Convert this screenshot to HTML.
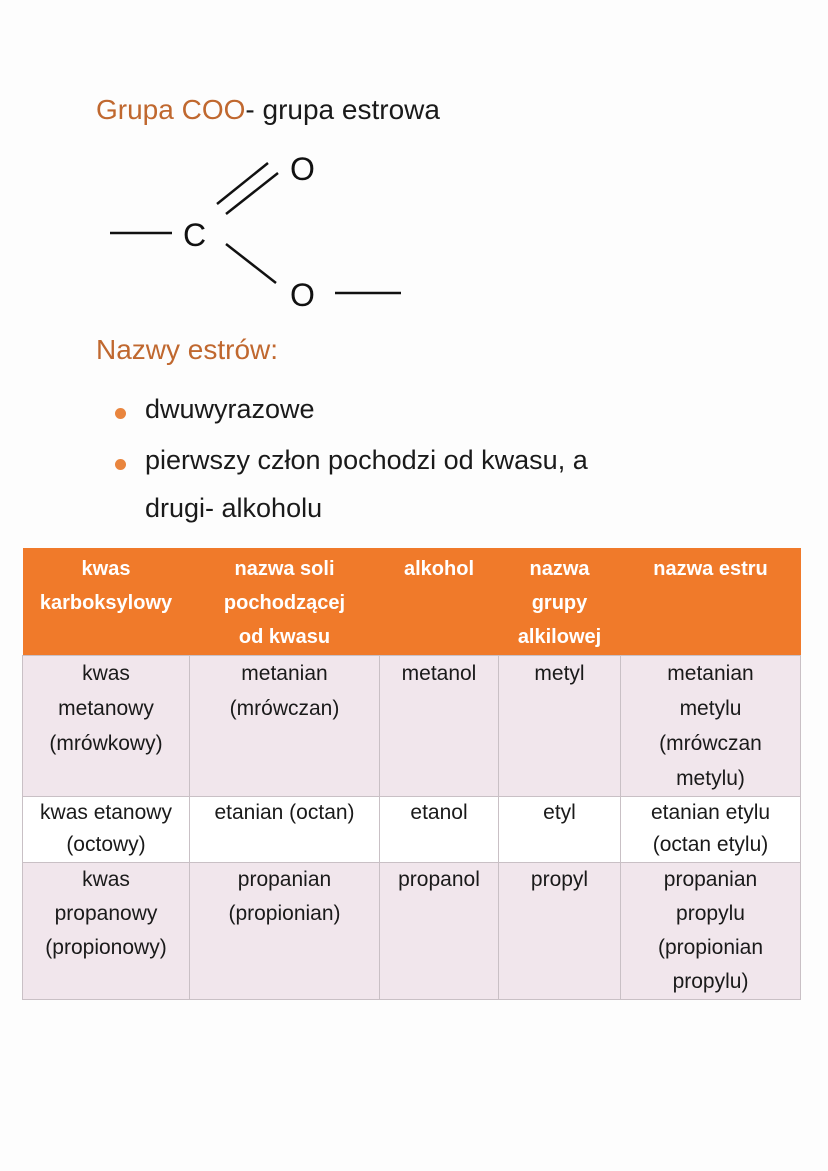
<!DOCTYPE html>
<html><head><meta charset="utf-8"><style>
body{margin:0;width:828px;height:1171px;background:#fdfdfd;position:relative;overflow:hidden;font-family:"Liberation Sans","DejaVu Sans",sans-serif;color:#1a1a1a}
.a{position:absolute;white-space:nowrap}
table{position:absolute;left:22px;top:548px;border-collapse:collapse;font-size:21px;line-height:35px}
td{vertical-align:top;text-align:center;border:1px solid #c9c0c5;padding:0 2px;background:#f1e6ec}
th{background:#f07a2a;color:#fff;font-weight:bold;vertical-align:top;text-align:center;font-size:20px;line-height:34px;padding:4px 2px 0;border:none;font-family:"Liberation Sans Narrow","Liberation Sans",sans-serif}
tr.w td{background:#fff;line-height:32px}
tr.p td{line-height:34px}
.dot{position:absolute;width:11px;height:11px;border-radius:50%;background:#e9853e}
</style></head><body>
<div class="a" style="left:96px;top:94px;font-size:28px"><span style="color:#c0682f">Grupa COO</span>- grupa estrowa</div>
<svg class="a" style="left:0;top:0" width="828" height="340">
<g stroke="#111" stroke-width="2.5">
<line x1="110" y1="233" x2="172" y2="233"/>
<line x1="217" y1="204" x2="268" y2="163"/>
<line x1="226" y1="214" x2="278" y2="173"/>
<line x1="226" y1="244" x2="276" y2="283"/>
<line x1="335" y1="293" x2="401" y2="293"/>
</g>
<text x="183" y="246" font-size="32" font-family="Liberation Sans" fill="#111">C</text>
<text x="290" y="180" font-size="32" font-family="Liberation Sans" fill="#111">O</text>
<text x="290" y="306" font-size="32" font-family="Liberation Sans" fill="#111">O</text>
</svg>
<div class="a" style="left:96px;top:334px;font-size:28px;color:#c0682f">Nazwy estrów:</div>
<div class="dot" style="left:115px;top:408px"></div>
<div class="a" style="left:145px;top:394px;font-size:27px">dwuwyrazowe</div>
<div class="dot" style="left:115px;top:459px"></div>
<div class="a" style="left:145px;top:445px;font-size:27px">pierwszy człon pochodzi od kwasu, a</div>
<div class="a" style="left:145px;top:493px;font-size:27px">drugi- alkoholu</div>
<table>
<tr style="height:107px"><th style="width:163px">kwas<br>karboksylowy</th><th style="width:186px">nazwa soli<br>pochodzącej<br>od kwasu</th><th style="width:115px">alkohol</th><th style="width:118px">nazwa<br>grupy<br>alkilowej</th><th style="width:176px">nazwa estru</th></tr>
<tr style="height:140px"><td>kwas<br>metanowy<br>(mrówkowy)</td><td>metanian<br>(mrówczan)</td><td>metanol</td><td>metyl</td><td>metanian<br>metylu<br>(mrówczan<br>metylu)</td></tr>
<tr class="w" style="height:66px"><td>kwas etanowy<br>(octowy)</td><td>etanian (octan)</td><td>etanol</td><td>etyl</td><td>etanian etylu<br>(octan etylu)</td></tr>
<tr class="p" style="height:137px"><td>kwas<br>propanowy<br>(propionowy)</td><td>propanian<br>(propionian)</td><td>propanol</td><td>propyl</td><td>propanian<br>propylu<br>(propionian<br>propylu)</td></tr>
</table>
</body></html>
